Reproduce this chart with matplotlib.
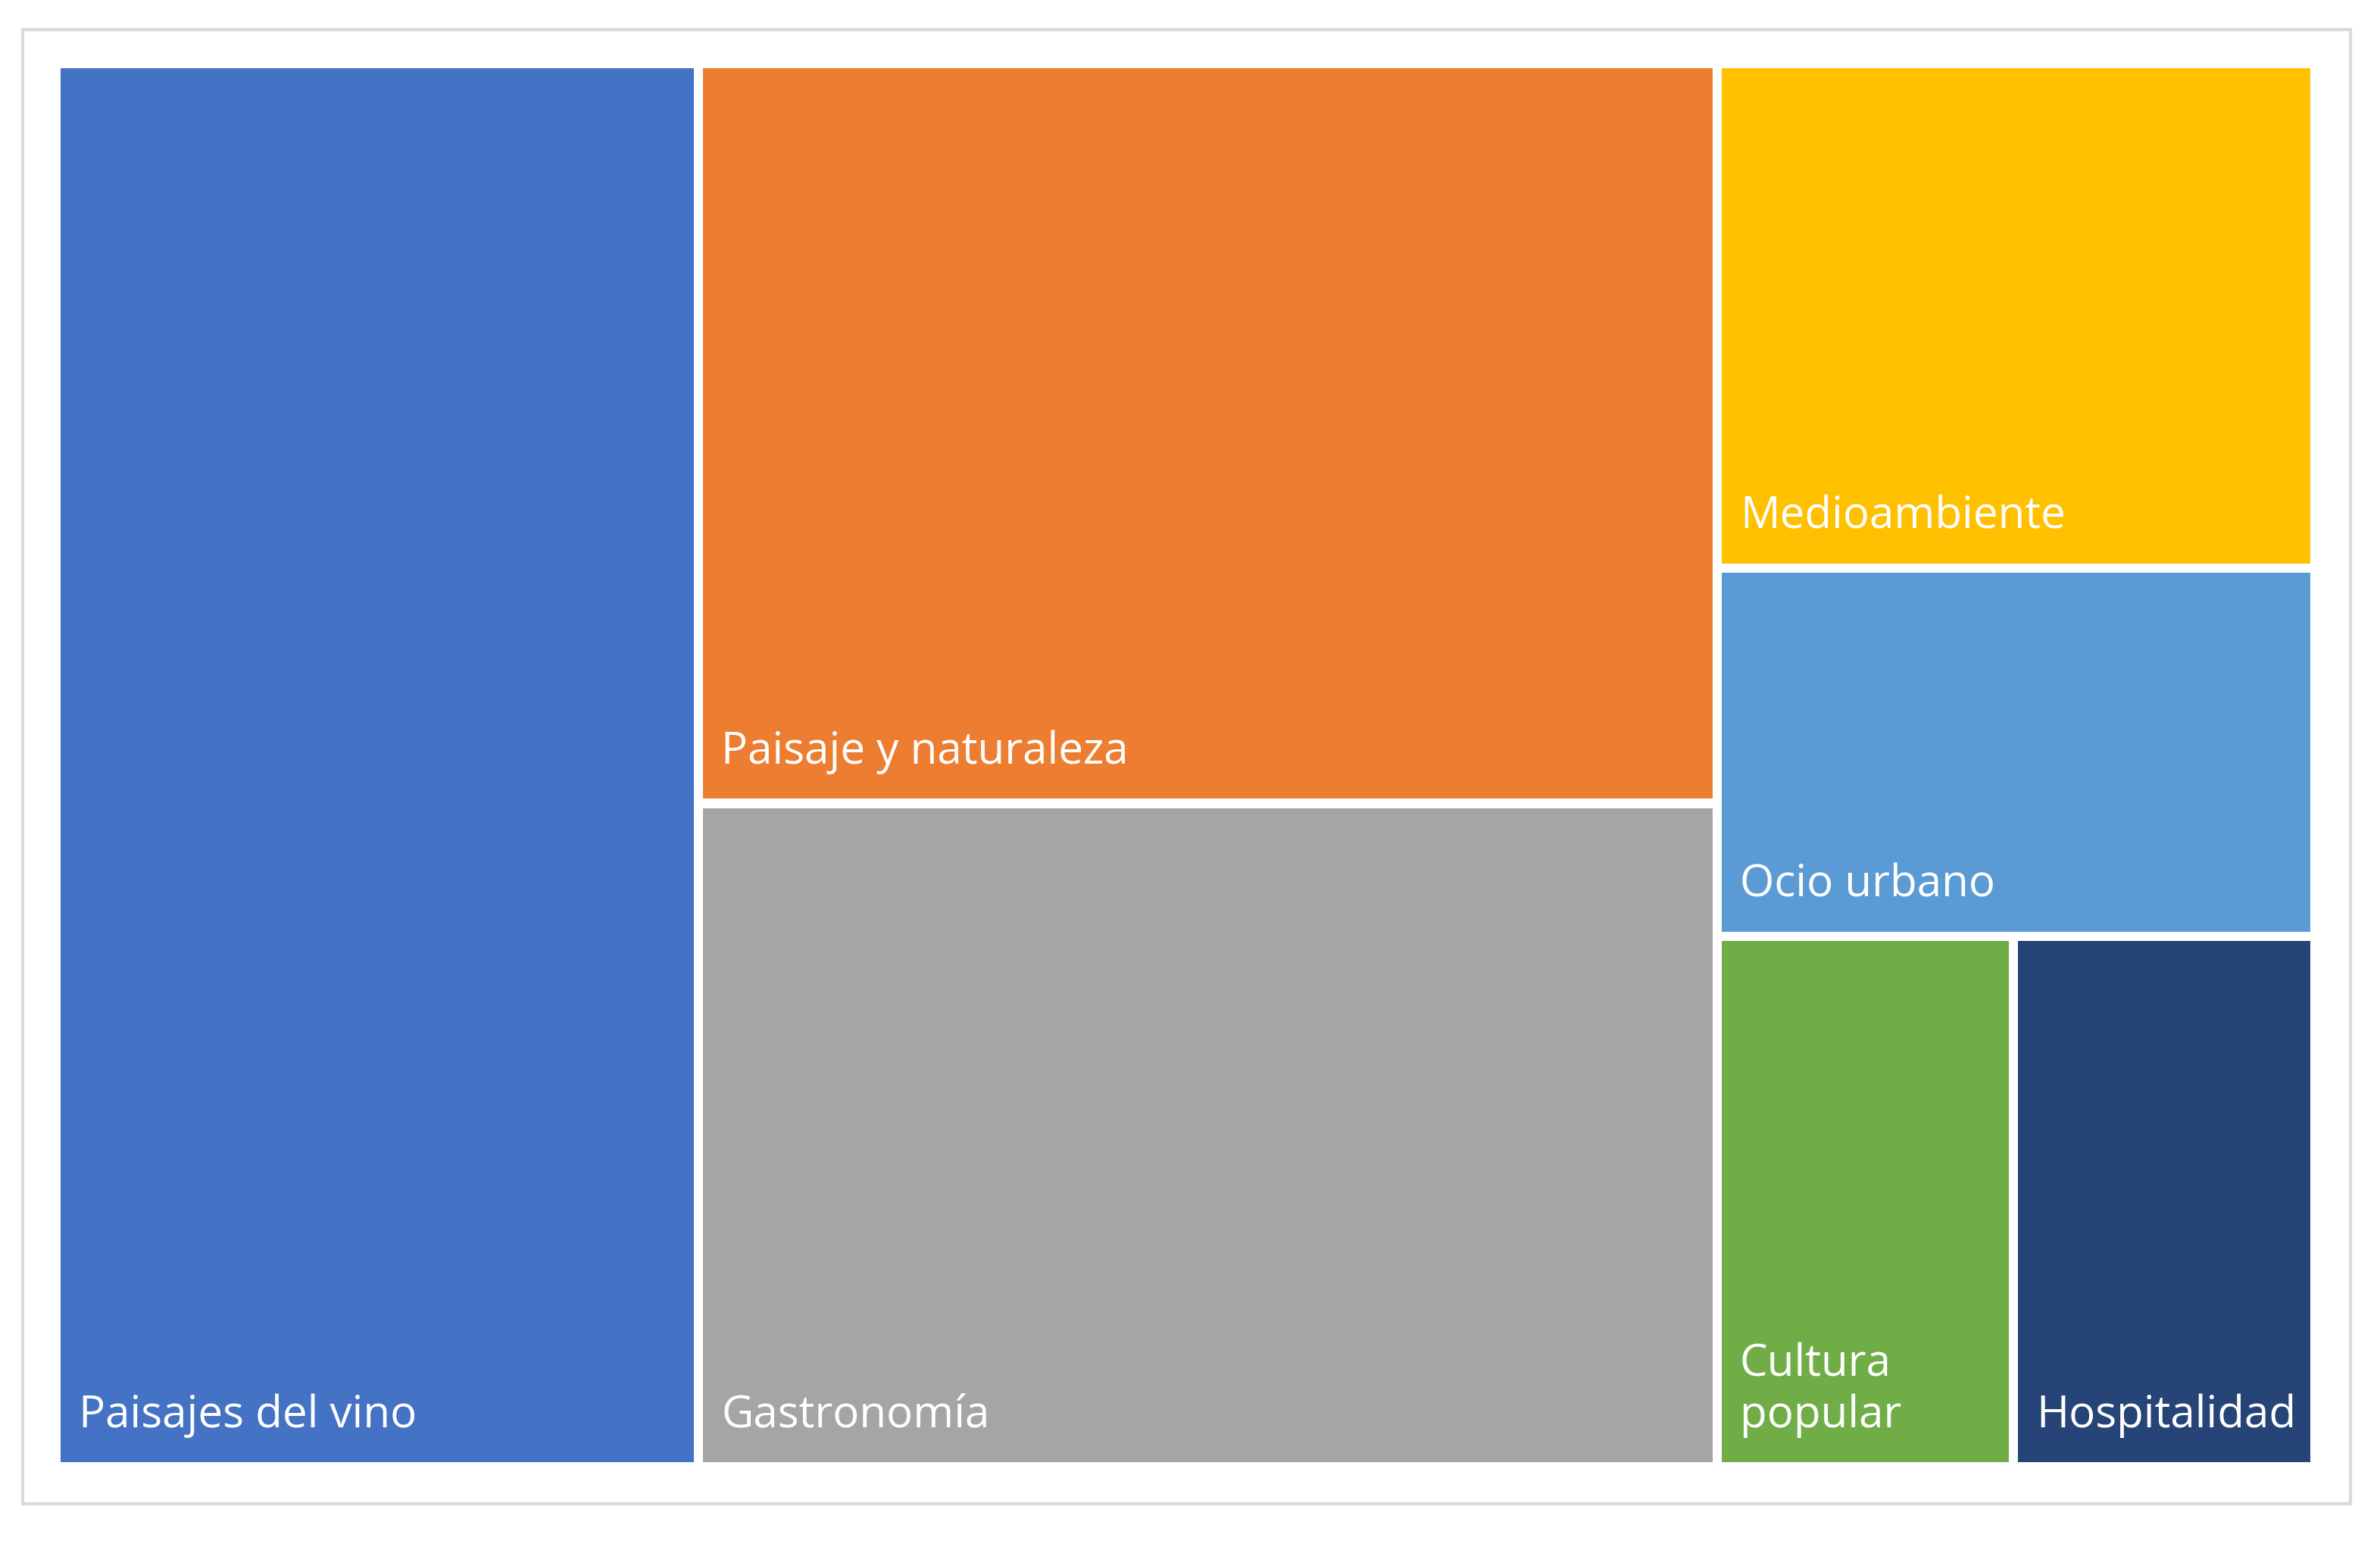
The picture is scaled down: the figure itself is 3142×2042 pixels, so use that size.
import matplotlib.pyplot as plt
from matplotlib.patches import Rectangle

labels = ['Paisajes del vino', 'Paisaje y naturaleza', 'Gastronomía', 'Medioambiente',
          'Ocio urbano', 'Cultura\npopular', 'Hospitalidad']
values = [57, 48, 43, 19, 14, 10, 10]
colors = ['#4472C4', '#ED7D31', '#A5A5A5', '#FFC000', '#5B9BD5', '#70AD47', '#264478']

W, H = 1.0, 1.0
total = sum(values)

# layout: column 1 = [0], column 2 = [1, 2], column 3 = [3], [4], [5 | 6]
rects = []
x = 0
col = values[0] / total * W
rects.append((x, 0, col, H))
x += col
col = (values[1] + values[2]) / total * W
h1 = values[1] / (values[1] + values[2]) * H
rects.append((x, H - h1, col, h1))
rects.append((x, 0, col, H - h1))
x += col
col = W - x
s3 = sum(values[3:])
h3 = values[3] / s3 * H
h4 = values[4] / s3 * H
rects.append((x, H - h3, col, h3))
rects.append((x, H - h3 - h4, col, h4))
hb = H - h3 - h4
w5 = values[5] / (values[5] + values[6]) * col
rects.append((x, 0, w5, hb))
rects.append((x + w5, 0, col - w5, hb))

fig = plt.figure(figsize=(15.71, 10.21), dpi=200)
fig.patches.append(Rectangle((0.0096, 0.028), 0.978, 0.953, transform=fig.transFigure,
                             fill=False, edgecolor='#D9D9D9', linewidth=1.5))
ax = fig.add_axes([0.0255, 0.055, 0.9452, 0.9008])
ax.set_xlim(0, W)
ax.set_ylim(0, H)
ax.axis('off')

gx = 3 / 1482
gy = 3 / 918
for (rx, ry, rw, rh), lab, c in zip(rects, labels, colors):
    x0 = rx + (gx if rx > 0 else 0)
    x1 = rx + rw - (gx if rx + rw < W - 1e-9 else 0)
    y0 = ry + (gy if ry > 0 else 0)
    y1 = ry + rh - (gy if ry + rh < H - 1e-9 else 0)
    ax.add_patch(Rectangle((x0, y0), x1 - x0, y1 - y0, facecolor=c, edgecolor='none'))
    ax.text(x0 + 12 / 1482, y0 + 16 / 918, lab, color='white', fontsize=21,
            family=['Open Sans', 'DejaVu Sans'], ha='left', va='bottom', linespacing=1.2)

fig.savefig('out.png', dpi=200)
